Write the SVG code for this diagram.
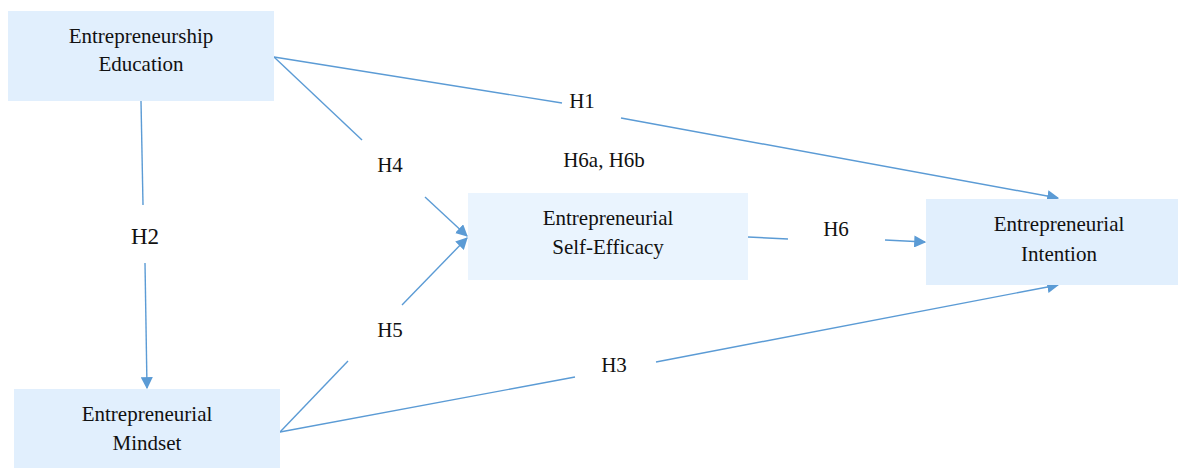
<svg xmlns="http://www.w3.org/2000/svg" width="1178" height="468" viewBox="0 0 1178 468">
<style>
.box{fill:#e1effd}
.box2{fill:#eaf4fe}
.t{font-size:21px;fill:#111;text-anchor:middle}
.ln{stroke:#5b9bd5;stroke-width:1.4;fill:none}
</style>
<defs>
<marker id="ah" viewBox="0 0 10 10" refX="9" refY="5" markerWidth="12" markerHeight="12" markerUnits="userSpaceOnUse" orient="auto"><path d="M0,0 L10,5 L0,10 z" fill="#5b9bd5"/></marker>
</defs>
<rect width="1178" height="468" fill="#fff"/>
<g font-family="Liberation Serif, Times New Roman, serif">
<g id="connectors">
<line class="ln" x1="274" y1="57" x2="562" y2="103"/>
<line class="ln" x1="621" y1="118" x2="1058" y2="198" marker-end="url(#ah)"/>
<line class="ln" x1="274" y1="57" x2="362" y2="140"/>
<line class="ln" x1="425" y1="197" x2="467" y2="236" marker-end="url(#ah)"/>
<line class="ln" x1="141" y1="101" x2="143" y2="205"/>
<line class="ln" x1="145" y1="263" x2="147" y2="388" marker-end="url(#ah)"/>
<line class="ln" x1="280" y1="432" x2="348" y2="361"/>
<line class="ln" x1="402" y1="305" x2="467" y2="238" marker-end="url(#ah)"/>
<line class="ln" x1="280" y1="432" x2="575" y2="377"/>
<line class="ln" x1="656" y1="362" x2="1058" y2="285" marker-end="url(#ah)"/>
<line class="ln" x1="748" y1="237" x2="788" y2="239"/>
<line class="ln" x1="885" y1="240" x2="925" y2="242" marker-end="url(#ah)"/>
<text class="t" x="582" y="108">H1</text>
<text class="t" x="390" y="172">H4</text>
<text class="t" x="604" y="167">H6a, H6b</text>
<text class="t" x="145" y="244" style="font-size:23px">H2</text>
<text class="t" x="836" y="236">H6</text>
<text class="t" x="390" y="337">H5</text>
<text class="t" x="614" y="372">H3</text>
</g>
<g id="education"><rect class="box" x="8" y="11" width="266" height="90"/><text class="t" x="141" y="43">Entrepreneurship</text><text class="t" x="141" y="71">Education</text></g>
<g id="self-efficacy"><rect class="box2" x="468" y="193" width="280" height="87"/><text class="t" x="608" y="225">Entrepreneurial</text><text class="t" x="608" y="254">Self-Efficacy</text></g>
<g id="intention"><rect class="box" x="926" y="199" width="252" height="86"/><text class="t" x="1059" y="231">Entrepreneurial</text><text class="t" x="1059" y="261">Intention</text></g>
<g id="mindset"><rect class="box" x="14" y="389" width="266" height="79"/><text class="t" x="147" y="421">Entrepreneurial</text><text class="t" x="147" y="450">Mindset</text></g>
</g>
</svg>
